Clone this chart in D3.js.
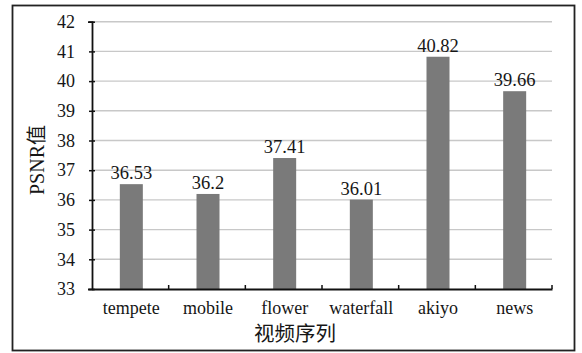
<!DOCTYPE html>
<html>
<head>
<meta charset="utf-8">
<script src="https://cdn.jsdelivr.net/npm/d3@7"></script>
<style>
  html, body { margin: 0; padding: 0; background: #fff; }
  svg { display: block; }
  text { font-family: "Liberation Serif", "Times New Roman", "Noto Sans CJK SC", serif; fill: #161616; }
  .cjk { font-family: "Noto Sans CJK SC", sans-serif; }
</style>
</head>
<body>
<svg id="chart" width="582" height="353"></svg>
<script>
// PSNR per test sequence
const sequences = ["tempete", "mobile", "flower", "waterfall", "akiyo", "news"];
const psnr = [36.53, 36.2, 37.41, 36.01, 40.82, 39.66];
const psnrLabels = ["36.53", "36.2", "37.41", "36.01", "40.82", "39.66"];
const yTicks = [33, 34, 35, 36, 37, 38, 39, 40, 41, 42];
const yTitle = "PSNR值";
const xTitle = "视频序列";

const svg = d3.select("#chart");
const W = 582, H = 353;
const margin = { left: 92, right: 30, top: 21.7, bottom: 64 };
const plotW = W - margin.left - margin.right;
const plotH = H - margin.top - margin.bottom;
const serif = "Liberation Serif, Times New Roman, serif";

// outer frame
svg.append("rect")
  .attr("x", 12.5).attr("y", 5.5)
  .attr("width", 562).attr("height", 345)
  .attr("fill", "none").attr("stroke", "#222").attr("stroke-width", 1.8);

const g = svg.append("g").attr("transform", `translate(${margin.left},${margin.top})`);

const x = d3.scaleBand().domain(sequences).range([0, plotW]).paddingInner(0).paddingOuter(0);
const y = d3.scaleLinear().domain([33, 42]).range([plotH, 0]);

// horizontal gridlines
g.append("g").selectAll("line")
  .data(yTicks.filter(t => t > 33))
  .join("line")
  .attr("x1", 0).attr("x2", plotW)
  .attr("y1", d => y(d)).attr("y2", d => y(d))
  .attr("stroke", "#c8c8c8").attr("stroke-width", 1.4);

// bars
const barW = 23;
g.append("g").selectAll("rect")
  .data(sequences)
  .join("rect")
  .attr("x", (d) => x(d) + x.bandwidth() / 2 - barW / 2 + 1)
  .attr("width", barW)
  .attr("y", (d, i) => y(psnr[i]))
  .attr("height", (d, i) => plotH - y(psnr[i]))
  .attr("fill", "#7a7a7a");

// value labels
g.append("g").selectAll("text")
  .data(sequences)
  .join("text")
  .attr("x", d => x(d) + x.bandwidth() / 2 + 1)
  .attr("y", (d, i) => y(psnr[i]) - 5)
  .attr("text-anchor", "middle")
  .style("font-family", serif)
  .attr("font-size", 18.5)
  .text((d, i) => psnrLabels[i]);

// y axis
const yAxis = g.append("g")
  .call(d3.axisLeft(y).tickValues(yTicks).tickSize(4).tickPadding(13).tickFormat(d3.format("d")));
yAxis.select(".domain").attr("stroke", "#111").attr("stroke-width", 1.8);
yAxis.selectAll(".tick line").attr("stroke", "#111").attr("stroke-width", 1.5).attr("x2", 3).attr("x1", -3);
yAxis.selectAll(".tick text").attr("font-size", 18)
  .style("font-family", serif).attr("fill", "#161616");

// x axis
const xAxis = g.append("g").attr("transform", `translate(0,${plotH})`)
  .call(d3.axisBottom(x).tickSize(0).tickPadding(12));
xAxis.select(".domain").attr("stroke", "#111").attr("stroke-width", 1.8);
xAxis.selectAll(".tick text").attr("font-size", 18)
  .style("font-family", serif).attr("fill", "#161616")
  .attr("dx", 1);
// category separators
g.append("g").selectAll("line")
  .data(sequences.slice(1).concat(["end"]))
  .join("line")
  .attr("x1", (d, i) => x.step() * (i + 1)).attr("x2", (d, i) => x.step() * (i + 1))
  .attr("y1", plotH).attr("y2", plotH - 4)
  .attr("stroke", "#111").attr("stroke-width", 1.5);

// axis titles
svg.append("text")
  .attr("transform", "translate(44,160) rotate(-90)")
  .attr("text-anchor", "middle")
  .style("font-family", "Liberation Serif, Noto Sans CJK SC, serif")
  .attr("font-size", 20)
  .text(yTitle);

svg.append("text")
  .attr("class", "cjk")
  .attr("x", 295).attr("y", 341)
  .attr("text-anchor", "middle")
  .attr("font-size", 20.5)
  .text(xTitle);
</script>
</body>
</html>
